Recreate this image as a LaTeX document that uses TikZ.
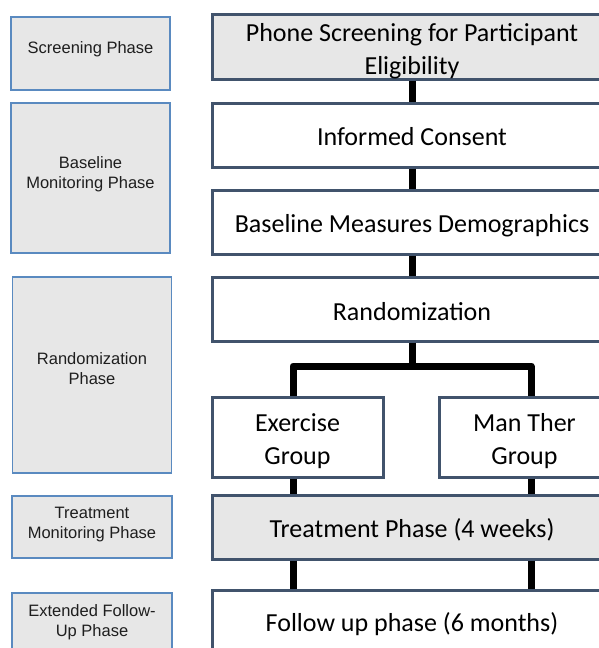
\documentclass[tikz,border=0pt]{standalone}
\usepackage{fontspec}
\setmainfont{Carlito}
\newfontfamily\arialf{Liberation Sans}
\definecolor{phaseblue}{HTML}{5A8AC0}
\definecolor{boxgray}{HTML}{E7E7E7}
\definecolor{stageborder}{HTML}{41536C}
\definecolor{phasetext}{HTML}{1E1E1E}
\begin{document}
\begin{tikzpicture}[x=1pt,y=-1pt,
  phasebox/.style={draw=phaseblue, line width=1.5pt, fill=boxgray, inner sep=0pt},
  phasetxt/.style={align=center, text=phasetext, inner sep=0pt, font=\arialf\fontsize{16.5}{20}\selectfont},
  stagebox/.style={draw=stageborder, line width=3pt, fill=white, inner sep=0pt},
  stagetxt/.style={align=center, text=black, inner sep=0pt, font=\fontsize{26}{33}\selectfont},
  graystage/.style={stagebox, fill=boxgray},
  link/.style={line width=7pt, black, line join=round}]
\useasboundingbox (0,0) rectangle (599,648);
\clip (0,0) rectangle (599,648);
\fill[white] (0,0) rectangle (599,648);

% phase labels (left column)
\node[phasebox, minimum width=159pt, minimum height=73pt,
  label={[phasetxt, yshift=4pt]center:Screening Phase}] (scr) at (90.5,53.5) {};
\node[phasebox, minimum width=159pt, minimum height=150pt,
  label={[phasetxt, yshift=4pt]center:Baseline\\Monitoring Phase}] (base) at (90.5,178) {};
\node[phasebox, minimum width=159pt, minimum height=196pt,
  label={[phasetxt, yshift=6pt]center:Randomization\\Phase}] (rndp) at (92,375) {};
\node[phasebox, minimum width=160pt, minimum height=62pt,
  label={[phasetxt, yshift=2.5pt]center:Treatment\\Monitoring Phase}] (trtp) at (92,527) {};
\node[phasebox, minimum width=160pt, minimum height=62pt,
  label={[phasetxt, yshift=2pt]center:Extended Follow-\\Up Phase}] (extp) at (92,624) {};

% stages (right column)
\node[graystage, minimum width=400pt, minimum height=65pt,
  label={[stagetxt, yshift=-5pt]center:Phone Screening for Participant\\Eligibility}] (phone) at (412,46.5) {};
\node[stagebox, minimum width=400pt, minimum height=64pt,
  label={[stagetxt, yshift=-1.5pt]center:Informed Consent}] (consent) at (412,135) {};
\node[stagebox, minimum width=400pt, minimum height=64pt,
  label={[stagetxt, yshift=-4pt]center:Baseline Measures Demographics}] (measures) at (412,222) {};
\node[stagebox, minimum width=400pt, minimum height=64pt,
  label={[stagetxt, yshift=-3pt]center:Randomization}] (random) at (412,309) {};
\node[stagebox, minimum width=171pt, minimum height=80pt,
  label={[stagetxt, yshift=-4pt]center:Exercise\\Group}] (exgrp) at (297.5,437) {};
\node[stagebox, minimum width=171pt, minimum height=80pt,
  label={[stagetxt, yshift=-4pt]center:Man Ther\\Group}] (mangrp) at (524.5,437) {};
\node[graystage, minimum width=400pt, minimum height=64pt,
  label={[stagetxt, yshift=-3pt]center:Treatment Phase (4 weeks)}] (treat) at (412,527) {};
\node[stagebox, minimum width=400pt, minimum height=64pt,
  label={[stagetxt, yshift=-2pt]center:Follow up phase (6 months)}] (follow) at (412,622) {};

% connectors
\coordinate (jl) at (293,366);
\coordinate (jr) at (531,366);
\coordinate (jm) at (412,366);
\draw[link] (phone.south) -- (consent.north);
\draw[link] (consent.south) -- (measures.north);
\draw[link] (measures.south) -- (random.north);
\draw[link] (random.south) -- (jm);
\draw[link] (jl |- exgrp.north) -- (jl) -- (jr) -- (jr |- mangrp.north);
\draw[link] (jl |- exgrp.south) -- (jl |- treat.north);
\draw[link] (jr |- mangrp.south) -- (jr |- treat.north);
\draw[link] (jl |- treat.south) -- (jl |- follow.north);
\draw[link] (jr |- treat.south) -- (jr |- follow.north);
\end{tikzpicture}
\end{document}
